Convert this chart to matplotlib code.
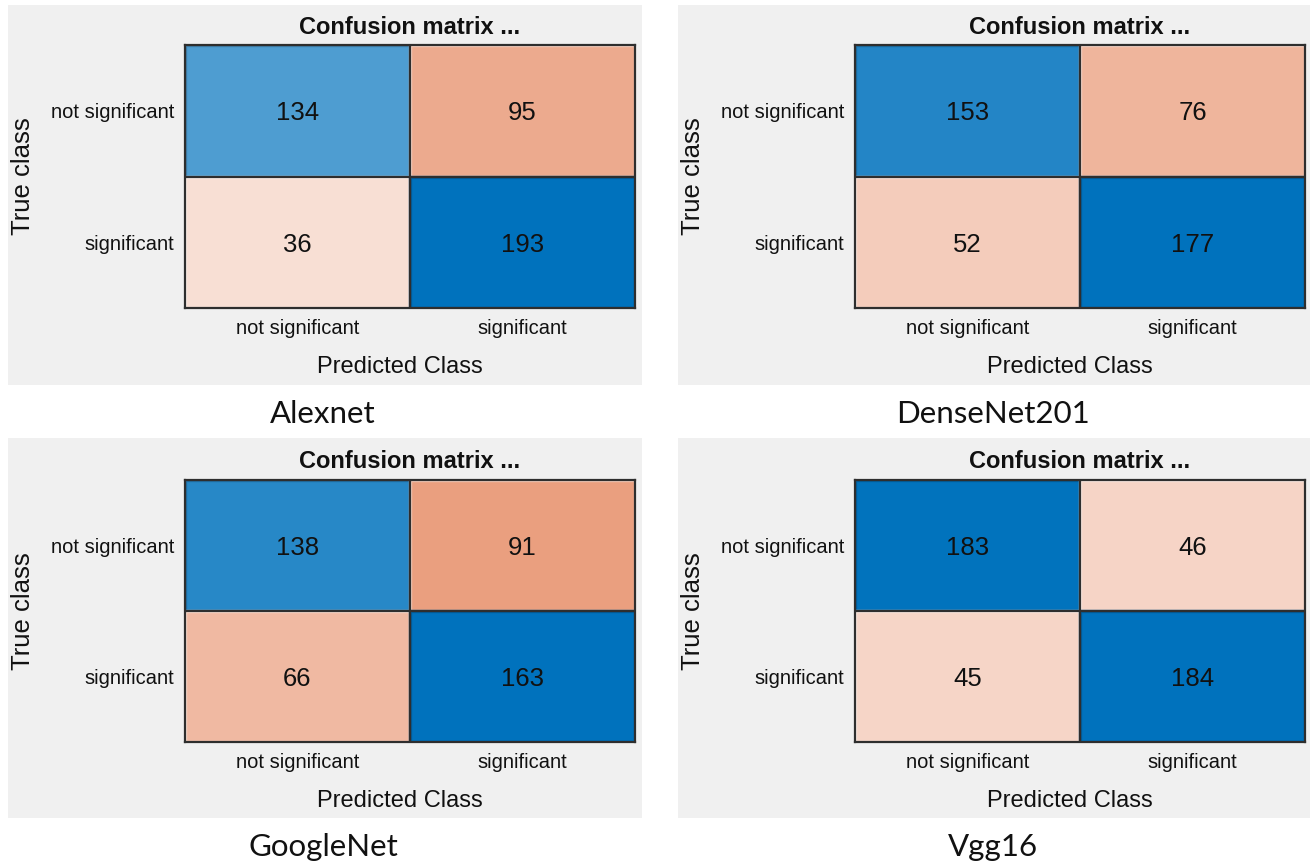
import numpy as np
import matplotlib
matplotlib.use("Agg")
import matplotlib.pyplot as plt
from matplotlib.patches import Rectangle

# Confusion counts per model (rows: true class, cols: predicted class)
class_names = ["not significant", "significant"]
model_names = ["Alexnet", "DenseNet201", "GoogleNet", "Vgg16"]
alexnet = [[134, 95], [36, 193]]
densenet201 = [[153, 76], [52, 177]]
googlenet = [[138, 91], [66, 163]]
vgg16 = [[183, 46], [45, 184]]
matrices = [alexnet, densenet201, googlenet, vgg16]

W, H = 1312, 867
fig = plt.figure(figsize=(W / 100, H / 100), dpi=100)
fig.patch.set_facecolor("white")

BLUE = np.array([0, 114, 189]) / 255.0
ORANGE = np.array([217, 83, 25]) / 255.0
WHITE = np.ones(3)
FRAME = "#2e2e2e"
SANS = ["Liberation Sans", "DejaVu Sans"]


def fx(px):
    return px / W


def fy(py):
    return 1 - py / H


def cell_color(value, vmax, diagonal):
    base = BLUE if diagonal else ORANGE
    t = value / vmax
    return WHITE + t * (base - WHITE)


# panel layout in pixels: (panel_left, panel_right, panel_top, panel_bottom, matrix_left, matrix_right, matrix_top, matrix_bottom)
layouts = [
    (8, 642, 5, 385, 185, 635, 45, 308),
    (678, 1310, 5, 385, 855, 1305, 45, 308),
    (8, 642, 438, 818, 185, 635, 480, 742),
    (678, 1310, 438, 818, 855, 1305, 480, 742),
]

for mat, name, lay in zip(matrices, model_names, layouts):
    pl, pr, pt, pb, ml, mr, mt, mb = lay
    mat = np.array(mat)
    vmax = mat.max()

    # grey panel background
    fig.patches.append(Rectangle((fx(pl), fy(pb)), fx(pr) - fx(pl), fy(pt) - fy(pb),
                                 transform=fig.transFigure, facecolor="#f0f0f0",
                                 edgecolor="none", zorder=-5))

    ax = fig.add_axes([fx(ml), fy(mb), fx(mr) - fx(ml), fy(mt) - fy(mb)])
    ax.set_zorder(2)
    ax.set_xlim(-0.5, 1.5)
    ax.set_ylim(1.5, -0.5)
    for i in range(2):
        for j in range(2):
            diag = i == j
            fc = cell_color(mat[i, j], vmax, diag)
            ec = fc * 0.82 if diag else fc + 0.45 * (WHITE - fc)
            ax.add_patch(Rectangle((j - 0.5, i - 0.5), 1, 1, facecolor=fc,
                                   edgecolor=ec, linewidth=2.4, zorder=1))
            ax.text(j, i + 0.02, str(mat[i, j]), ha="center", va="center",
                    fontsize=18.5, family=SANS, color="#111111", zorder=3)
    ax.axvline(0.5, color=FRAME, lw=1.6, zorder=2)
    ax.axhline(0.5, color=FRAME, lw=1.6, zorder=2)
    for sp in ax.spines.values():
        sp.set_color(FRAME)
        sp.set_linewidth(1.6)
        sp.set_zorder(4)

    ax.set_xticks([0, 1])
    ax.set_xticklabels(class_names, fontsize=14.5, family=SANS, color="#111111")
    ax.set_yticks([0, 1])
    ax.set_yticklabels(class_names, fontsize=14.5, family=SANS, color="#111111")
    ax.tick_params(length=0, pad=8)

    cx = (ml + mr) / 2
    fig.text(fx(cx), fy(pt + 23), "Confusion matrix ...", ha="center", va="center",
             fontsize=17, fontweight="bold", family=SANS, color="#111111")
    fig.text(fx(cx - 10), fy(mb + 59), "Predicted Class", ha="center", va="center",
             fontsize=17, family=SANS, color="#111111")
    fig.text(fx(pl + 15), fy((mt + mb) / 2), "True class", ha="center", va="center",
             rotation=90, fontsize=18.5, family=SANS, color="#111111")
    fig.text(fx(cx - 87), fy(pb + 29), name, ha="center", va="center",
             fontsize=22.5, family=["Lato", "DejaVu Sans"], color="#111111")

fig.savefig("out.png", dpi=100, facecolor="white")
